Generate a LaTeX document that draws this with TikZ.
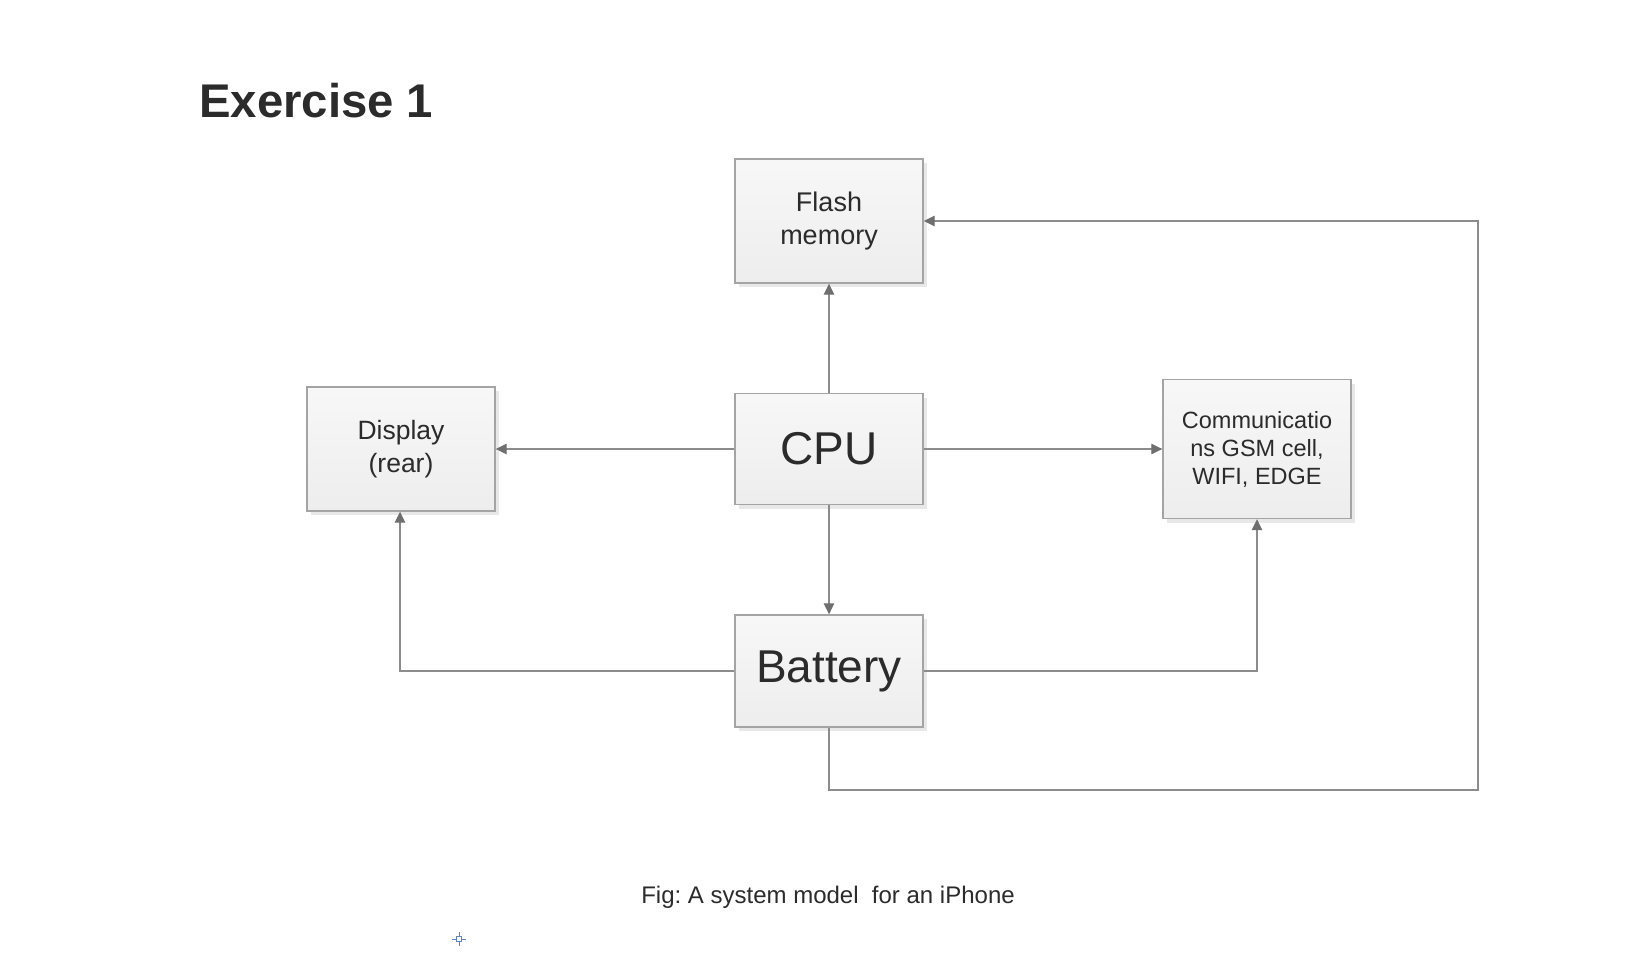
\documentclass[tikz,border=0pt]{standalone}
\usepackage{fontspec}
\setmainfont{Liberation Sans}
\usetikzlibrary{arrows.meta,shadows}
\definecolor{boxline}{HTML}{A4A4A4}
\definecolor{connline}{HTML}{8C8C8C}
\definecolor{tipcol}{HTML}{6E6E6E}
\definecolor{txt}{HTML}{2B2B2B}
\definecolor{cursor}{HTML}{5B84C8}
\tikzset{
  blockbox/.style={draw=boxline, line width=1.4pt, top color=white!97!black, bottom color=white!93!black,
    minimum width=188pt, align=center, text=txt, inner sep=0pt,
    general shadow={fill=black!9, shadow xshift=4pt, shadow yshift=-4pt}},
  conn/.style={draw=connline, line width=1.2pt, -{Triangle[length=11pt,width=10.5pt,color=tipcol]}},
  plain/.style={draw=connline, line width=1.2pt}
}
\frenchspacing
\begin{document}
\begin{tikzpicture}[x=1pt,y=-1pt]
\useasboundingbox (0,0) rectangle (1630,974);
\node[anchor=base west, text=txt, inner sep=0pt, font=\fontsize{47.3}{52}\selectfont\bfseries] (title) at (199,117) {Exercise 1};
\node[blockbox, minimum height=124pt, font=\fontsize{27}{33}\selectfont] (flash) at (829,221) {Flash\\memory};
\node[blockbox, minimum height=111pt, font=\fontsize{46}{52}\selectfont] (cpu) at (829,449) {CPU};
\node[blockbox, minimum height=124pt, font=\fontsize{26.5}{33}\selectfont] (disp) at (401,449) {Display\\(rear)};
\node[blockbox, minimum height=139pt, font=\fontsize{23.5}{28}\selectfont] (comm) at (1257,449) {Communicatio\\ns GSM cell,\\WIFI, EDGE};
\node[blockbox, minimum height=112pt, font=\fontsize{46}{52}\selectfont] (batt) at (829,671) {Battery};
\coordinate (c1) at (400,671);
\coordinate (c2) at (1257,671);
\coordinate (c3) at (829,790);
\coordinate (c4) at (1478,790);
\coordinate (c5) at (1478,221);
\draw[conn] (cpu.north) -- (flash.south);
\draw[conn] (cpu.west) -- (disp.east);
\draw[conn] (cpu.east) -- (comm.west);
\draw[conn] (cpu.south) -- (batt.north);
\draw[conn] (batt.west) -- (c1) -- (disp.south -| c1);
\draw[conn] (batt.east) -- (c2) -- (comm.south);
\draw[conn] (batt.south) -- (c3) -- (c4) -- (c5) -- (flash.east);
\node[anchor=base, text=txt, inner sep=0pt, font=\fontsize{24}{28}\selectfont] (cap) at (828,903) {Fig: A system model\ \ for an iPhone};
\node[draw=cursor, line width=1pt, minimum size=5pt, inner sep=0pt] (cur) at (459,939) {};
\coordinate (cl) at (452,939);
\coordinate (cr) at (466,939);
\coordinate (ct) at (459,932);
\coordinate (cb) at (459,946);
\draw[cursor, line width=1pt] (cur.west) -- (cl) (cur.east) -- (cr) (cur.north) -- (ct) (cur.south) -- (cb);
\end{tikzpicture}
\end{document}
